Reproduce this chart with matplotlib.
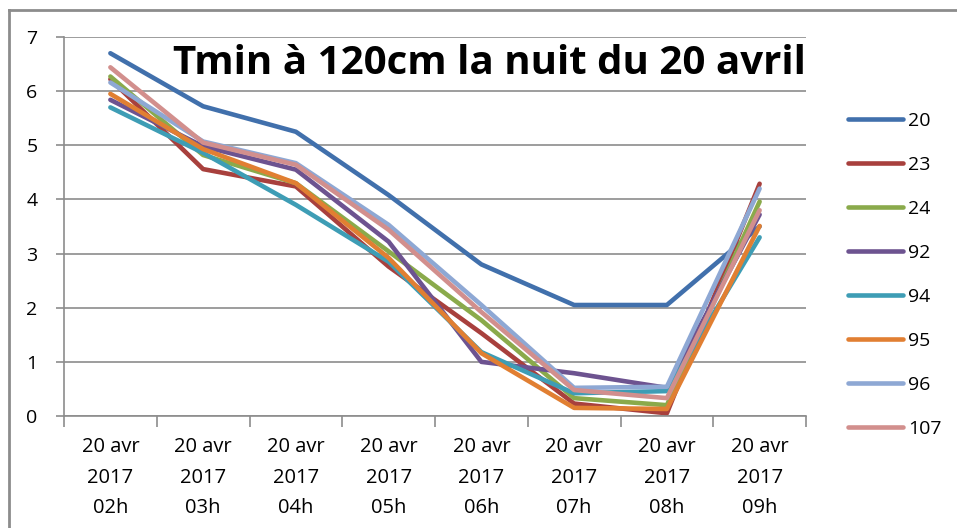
import matplotlib
matplotlib.use("Agg")
import matplotlib.pyplot as plt
from matplotlib.lines import Line2D

categories = ["20 avr\n2017\n02h", "20 avr\n2017\n03h", "20 avr\n2017\n04h", "20 avr\n2017\n05h",
              "20 avr\n2017\n06h", "20 avr\n2017\n07h", "20 avr\n2017\n08h", "20 avr\n2017\n09h"]

s20 = [6.70, 5.72, 5.25, 4.08, 2.80, 2.05, 2.05, 3.50]
s23 = [6.22, 4.56, 4.24, 2.76, 1.53, 0.23, 0.05, 4.29]
s24 = [6.27, 4.82, 4.30, 3.04, 1.77, 0.33, 0.20, 3.96]
s92 = [5.84, 4.98, 4.55, 3.22, 1.00, 0.79, 0.52, 3.72]
s94 = [5.70, 4.86, 3.90, 2.85, 1.18, 0.42, 0.46, 3.30]
s95 = [5.95, 4.93, 4.30, 2.92, 1.16, 0.15, 0.13, 3.51]
s96 = [6.16, 5.07, 4.67, 3.53, 2.05, 0.52, 0.54, 4.20]
s107 = [6.44, 5.05, 4.64, 3.44, 1.92, 0.48, 0.33, 3.80]

labels = ["20", "23", "24", "92", "94", "95", "96", "107"]
series = [s20, s23, s24, s92, s94, s95, s96, s107]
colors = ["#4170AC", "#A8403D", "#8AAA4B", "#6D5390", "#3E9DB5", "#E17F32", "#8EA8D4", "#D28F8D"]

title = "Tmin à 120cm la nuit du 20 avril"

fig = plt.figure(figsize=(9.57, 5.28), dpi=100)
fig.patch.set_facecolor("white")
ax = fig.add_axes([64/957, 1-416/528, (806-64)/957, (416-37)/528])

x = list(range(len(categories)))
for lab, vals, c in zip(labels, series, colors):
    ax.plot(x, vals, color=c, lw=3.3, label=lab, solid_joinstyle="round", solid_capstyle="round")

ax.set_xlim(-0.5, len(categories) - 0.5)
ax.set_ylim(0, 7)
ax.set_yticks(range(0, 8))
ax.yaxis.grid(True, color="#8c8c8c", lw=1.2)
ax.set_axisbelow(True)

ax.set_xticks(x)
ax.set_xticklabels(categories, fontsize=14.5, linespacing=1.72, family="Open Sans")
ax.set_xticks([i - 0.5 for i in range(len(categories) + 1)], minor=True)
ax.tick_params(axis="x", which="major", length=0, pad=15)
ax.tick_params(axis="x", which="minor", length=8, color="#8c8c8c", width=1.2)
ax.tick_params(axis="y", length=6, color="#8c8c8c", width=1.2, labelsize=14, pad=13)
for t in ax.get_yticklabels():
    t.set_family("Open Sans")

for s in ["top", "right"]:
    ax.spines[s].set_visible(False)
for s in ["left", "bottom"]:
    ax.spines[s].set_color("#8c8c8c")
    ax.spines[s].set_linewidth(1.2)

ax.text(1.0, 0.931, title, transform=ax.transAxes, ha="right", va="center",
        fontsize=29, fontweight="bold", family="Open Sans", color="black")

leg = fig.legend(loc="upper left", bbox_to_anchor=(830/957, 1-94/528), frameon=False,
                 handlelength=2.83, handletextpad=0.3, labelspacing=1.34,
                 prop={"family": "Open Sans", "size": 14})

# outer chart border (top and left visible)
fig.add_artist(Line2D([9/957, 1.0], [1-10/528, 1-10/528], transform=fig.transFigure, color="#8c8c8c", lw=2))
fig.add_artist(Line2D([9/957, 9/957], [0.0, 1-10/528], transform=fig.transFigure, color="#8c8c8c", lw=2))

fig.savefig("out.png", dpi=100)
